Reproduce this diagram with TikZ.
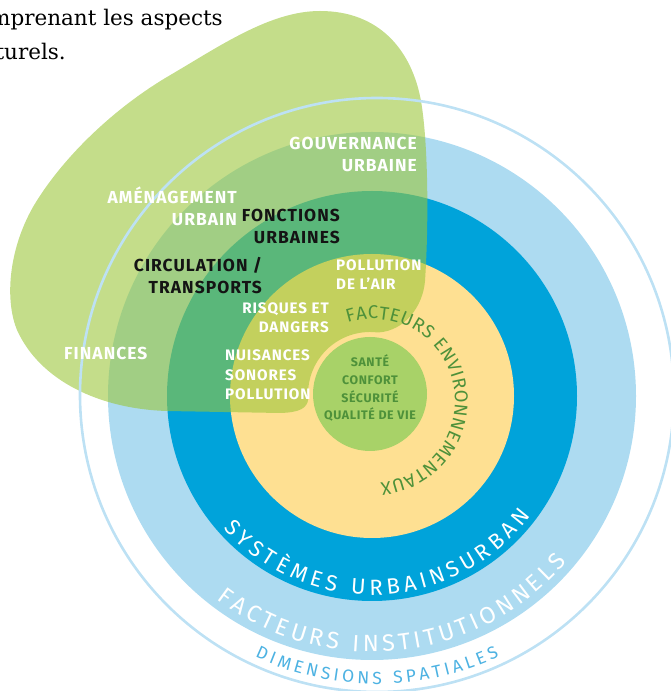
\documentclass[tikz,border=0pt]{standalone}
\usepackage{fontspec}
\setmainfont{Fira Sans}
\newfontfamily\introface{DejaVu Serif}
\usetikzlibrary{decorations.text}

\definecolor{ringpale}{RGB}{173,219,241}
\definecolor{ringdeep}{RGB}{0,163,218}
\definecolor{coreyellow}{RGB}{254,224,146}
\definecolor{coregreen}{RGB}{168,210,104}
\definecolor{blobgreen}{RGB}{154,198,56}
\definecolor{thinblue}{RGB}{189,225,244}
\definecolor{textgreen}{RGB}{78,145,58}
\definecolor{spatialblue}{RGB}{77,178,226}
\definecolor{inkblack}{RGB}{20,20,20}

\newcommand\ringfontA{\fontsize{22}{22}\selectfont\color{white}}
\newcommand\ringfontB{\fontsize{23.5}{24}\selectfont\color{white}}
\newcommand\ringfontC{\fontsize{17.5}{18}\selectfont\color{spatialblue}}
\newcommand\ringfontD{\fontsize{18.5}{19}\selectfont\color{textgreen}}

\tikzset{
  biglabel/.style={font=\fontsize{17.4}{22}\selectfont\bfseries\addfontfeature{LetterSpace=6},
    inner sep=0pt, text=white},
  smalllabel/.style={font=\fontsize{15.2}{19.5}\selectfont\bfseries\addfontfeature{LetterSpace=6},
    inner sep=0pt, text=white},
  corelabel/.style={font=\fontsize{12.4}{17.7}\selectfont\bfseries\addfontfeature{LetterSpace=5},
    inner sep=0pt, text=textgreen, align=center},
  introtext/.style={font=\introface\fontsize{21.5}{35}\selectfont, inner sep=0pt},
  blobfill/.style={fill=blobgreen, fill opacity=.59},
  ringtext/.style={decorate, decoration={text along path, text align=fit to path, text={#1}}}
}

\begin{document}
\begin{tikzpicture}[x=1pt,y=1pt]
  \useasboundingbox (0,0) rectangle (671,691);
  \clip (0,0) rectangle (671,691);
  \coordinate (ctr) at (372,295);
  \coordinate (core) at (370,297);
  \coordinate (thinctr) at (377,296);
  \coordinate (envctr) at (373,290);

  \fill[ringpale] (ctr) circle[radius=264];
  \fill[ringdeep] (ctr) circle[radius=205];
  \fill[coreyellow] (ctr) circle[radius=142];

  \fill[blobfill] (308.2,291.6) .. controls (307,283) and (300,278.5) .. (280,278)
    -- (167,280) .. controls (100,282) and (40,310) .. (17,361)
    .. controls (5,390) and (8,440) .. (33,484)
    .. controls (60,530) and (110,580) .. (167,614)
    .. controls (220,645) and (270,680) .. (320,680)
    .. controls (380,680) and (412,640) .. (421,590)
    .. controls (428,550) and (429,470) .. (425,410)
    .. controls (423,385) and (405,360) .. (378,358.5)
    arc[start angle=82.6, end angle=185, radius=62] -- cycle;

  \draw[thinblue, line width=2.6pt] (thinctr) circle[radius=297];
  \fill[coregreen] (core) circle[radius=57];

  \path[ringtext={|\ringfontA|SYSTÈMES URBAINSURBAN}]
    (ctr) ++(221.7:199) arc[start angle=221.7, end angle=323, radius=199];
  \path[ringtext={|\ringfontB|FACTEURS INSTITUTIONNELS}]
    (ctr) ++(232.7:256) arc[start angle=232.7, end angle=319.5, radius=256];
  \path[ringtext={|\ringfontC|DIMENSIONS SPATIALES}]
    (thinctr) ++(245:289) arc[start angle=245, end angle=295, radius=289];
  \path[ringtext={|\ringfontD|FACTEURS ENVIRONNEMENTAUX}]
    (envctr) ++(108:82) arc[start angle=108, end angle=-85, radius=82];

  \node[biglabel, align=right, anchor=base east] (govlabel) at (417,519) {GOUVERNANCE\\URBAINE};
  \node[biglabel, align=right, anchor=base east] (amenlabel) at (237,465) {AMÉNAGEMENT\\URBAIN};
  \node[biglabel, align=right, anchor=base east, text=inkblack] (fonclabel) at (340,447) {FONCTIONS\\URBAINES};
  \node[biglabel, align=right, anchor=base east, text=inkblack] (circlabel) at (262,397) {CIRCULATION /\\TRANSPORTS};
  \node[biglabel, anchor=base west] (finlabel) at (64,331) {FINANCES};
  \node[smalllabel, align=left, anchor=base west] (airlabel) at (336,401) {POLLUTION\\DE L’AIR};
  \node[smalllabel, align=right, anchor=base east] (risklabel) at (329,358) {RISQUES ET\\DANGERS};
  \node[smalllabel, align=left, anchor=base west] (noiselabel) at (225,291) {NUISANCES\\SONORES\\POLLUTION};
  \node[corelabel, anchor=base] (corelabel) at (370,271) {SANTÉ\\CONFORT\\SÉCURITÉ\\QUALITÉ DE VIE};

  \node[introtext, anchor=base east] (introA) at (223,665) {mprenant les aspects};
  \node[introtext, anchor=base east] (introB) at (66,631) {turels.};
\end{tikzpicture}
\end{document}
